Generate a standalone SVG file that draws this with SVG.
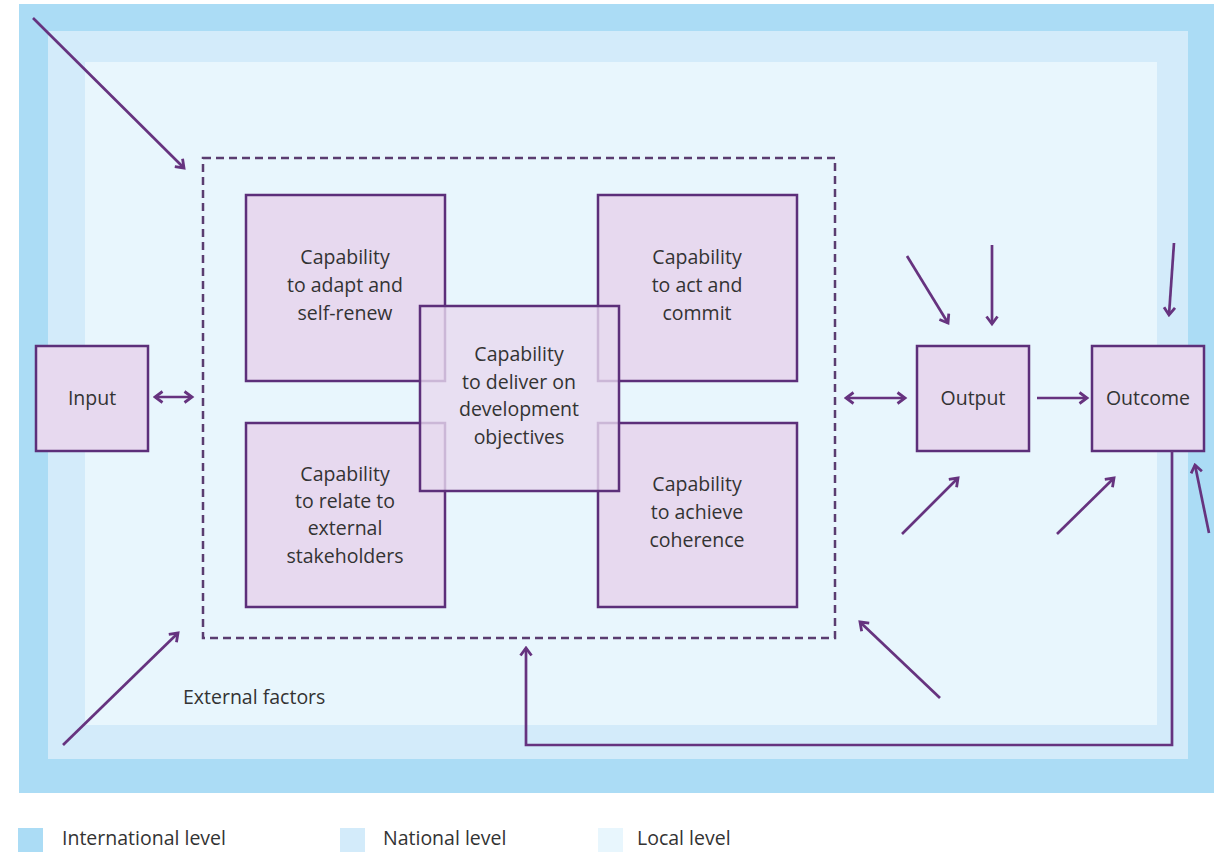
<svg xmlns="http://www.w3.org/2000/svg" width="1214" height="852" viewBox="0 0 1214 852">
<style>
.box{fill:#e7d9ef;stroke:#5c2f7a;stroke-width:2.5}
.ctr{fill:#e7d9ef;fill-opacity:0.8;stroke:#5c2f7a;stroke-width:2.5}
.t{font-family:"Open Sans","Noto Sans",sans-serif;font-size:19.5px;fill:#333333;text-anchor:middle}
.lg{font-family:"Open Sans","Noto Sans",sans-serif;font-size:19.5px;fill:#333333}
.a{fill:none;stroke:#66337f;stroke-width:2.7}
</style>
<defs>
<marker id="ah" viewBox="0 0 14 14" refX="11.5" refY="7" markerWidth="14" markerHeight="14" markerUnits="userSpaceOnUse" orient="auto-start-reverse">
<path d="M4,1.5 L11.5,7 L4,12.5" fill="none" stroke="#66337f" stroke-width="2.8"/>
</marker>
</defs>
<rect width="1214" height="852" fill="#ffffff"/>
<g id="levels">
<rect x="19" y="4" width="1195" height="789" fill="#abdcf5"/>
<rect x="48" y="31" width="1140" height="728" fill="#d3ebfa"/>
<rect x="85" y="62" width="1072" height="663" fill="#e8f6fd"/>
</g>
<g id="capability-frame">
<rect x="203" y="158" width="632" height="480" fill="none" stroke="#5a3d70" stroke-width="2.5" stroke-dasharray="8 5"/>
</g>
<g id="cap-adapt">
<rect class="box" x="246" y="195" width="199" height="186"/>
<text class="t" x="345" y="264">Capability</text>
<text class="t" x="345" y="292">to adapt and</text>
<text class="t" x="345" y="320">self-renew</text>
</g>
<g id="cap-act">
<rect class="box" x="598" y="195" width="199" height="186"/>
<text class="t" x="697" y="264">Capability</text>
<text class="t" x="697" y="292">to act and</text>
<text class="t" x="697" y="320">commit</text>
</g>
<g id="cap-relate">
<rect class="box" x="246" y="423" width="199" height="184"/>
<text class="t" x="345" y="481">Capability</text>
<text class="t" x="345" y="508">to relate to</text>
<text class="t" x="345" y="535">external</text>
<text class="t" x="345" y="563">stakeholders</text>
</g>
<g id="cap-coherence">
<rect class="box" x="598" y="423" width="199" height="184"/>
<text class="t" x="697" y="491">Capability</text>
<text class="t" x="697" y="519">to achieve</text>
<text class="t" x="697" y="547">coherence</text>
</g>
<g id="cap-deliver">
<rect class="ctr" x="420" y="306" width="199" height="185"/>
<text class="t" x="519" y="361">Capability</text>
<text class="t" x="519" y="389">to deliver on</text>
<text class="t" x="519" y="416">development</text>
<text class="t" x="519" y="444">objectives</text>
</g>
<g id="input">
<rect class="box" x="36" y="346" width="112" height="105"/>
<text class="t" x="92" y="405">Input</text>
</g>
<g id="output">
<rect class="box" x="917" y="346" width="112" height="105"/>
<text class="t" x="973" y="405">Output</text>
</g>
<g id="outcome">
<rect class="box" x="1092" y="346" width="112" height="105"/>
<text class="t" x="1148" y="405">Outcome</text>
</g>
<g id="connectors">
<line class="a" x1="155" y1="397" x2="192" y2="397" marker-start="url(#ah)" marker-end="url(#ah)"/>
<line class="a" x1="846" y1="398" x2="905" y2="398" marker-start="url(#ah)" marker-end="url(#ah)"/>
<line class="a" x1="1037" y1="398" x2="1087" y2="398" marker-end="url(#ah)"/>
<line class="a" x1="33" y1="18" x2="184" y2="168" marker-end="url(#ah)"/>
<line class="a" x1="63" y1="745" x2="178" y2="633" marker-end="url(#ah)"/>
<line class="a" x1="940" y1="698" x2="860" y2="622" marker-end="url(#ah)"/>
<line class="a" x1="907" y1="256" x2="948" y2="323" marker-end="url(#ah)"/>
<line class="a" x1="992" y1="245" x2="992" y2="324" marker-end="url(#ah)"/>
<line class="a" x1="1174" y1="243" x2="1169" y2="315" marker-end="url(#ah)"/>
<line class="a" x1="902" y1="534" x2="958" y2="478" marker-end="url(#ah)"/>
<line class="a" x1="1057" y1="534" x2="1114" y2="478" marker-end="url(#ah)"/>
<line class="a" x1="1209" y1="533" x2="1195" y2="465" marker-end="url(#ah)"/>
<polyline class="a" points="1172,451 1172,745 526,745 526,648" marker-end="url(#ah)"/>
</g>
<g id="labels">
<text class="lg" x="183" y="704">External factors</text>
</g>
<g id="legend">
<rect x="18" y="828" width="25" height="24" fill="#abdcf5"/>
<text class="lg" x="62" y="845">International level</text>
<rect x="340" y="828" width="25" height="24" fill="#d3ebfa"/>
<text class="lg" x="383" y="845">National level</text>
<rect x="598" y="828" width="25" height="24" fill="#e8f6fd"/>
<text class="lg" x="637" y="845">Local level</text>
</g>
</svg>
